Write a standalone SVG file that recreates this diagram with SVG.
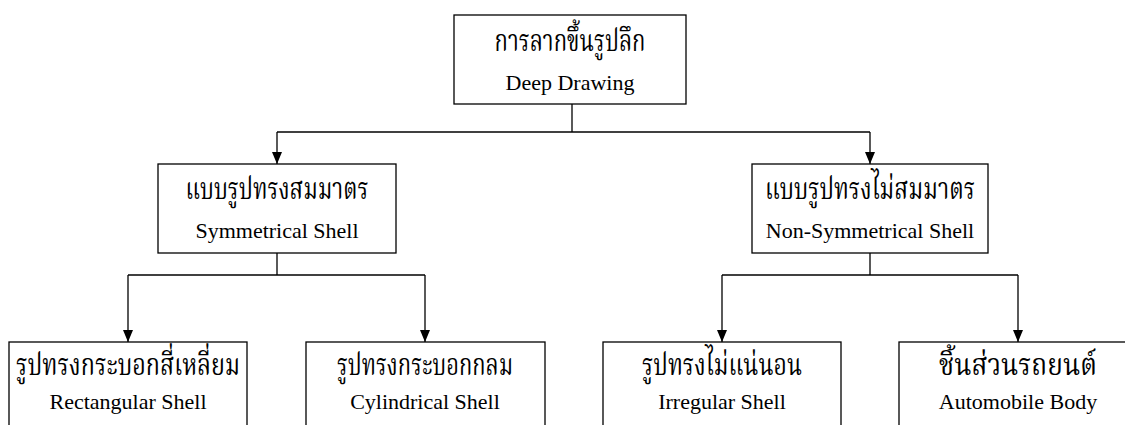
<svg xmlns="http://www.w3.org/2000/svg" width="1125" height="425" viewBox="0 0 1125 425">
<style>
.box{fill:#fff;stroke:#000;stroke-width:1.3}
.th{font-family:"Liberation Serif","Laksaman","Norasi","Noto Serif Thai","Noto Sans Thai Looped","Noto Sans Thai",serif;font-size:30px;fill:#000;text-anchor:middle}
.en{font-family:"Liberation Serif","Times New Roman",serif;font-size:22px;fill:#000;text-anchor:middle}
.ln{fill:none;stroke:#000;stroke-width:1.3}
</style>
<defs>
<marker id="ah" viewBox="0 0 12 10" refX="12" refY="5" markerWidth="12" markerHeight="10" markerUnits="userSpaceOnUse" orient="auto">
<path d="M0,0 L12,5 L0,10 Z" fill="#000"/>
</marker>
</defs>
<rect width="1125" height="425" fill="#fff"/>
<g id="connectors">
<path class="ln" d="M572,104 V132"/>
<path class="ln" d="M277,132 H870"/>
<path class="ln" d="M277,132 V164" marker-end="url(#ah)"/>
<path class="ln" d="M870,132 V164" marker-end="url(#ah)"/>
<path class="ln" d="M277,253 V275"/>
<path class="ln" d="M128,275 H425"/>
<path class="ln" d="M128,275 V342" marker-end="url(#ah)"/>
<path class="ln" d="M425,275 V342" marker-end="url(#ah)"/>
<path class="ln" d="M870,253 V275"/>
<path class="ln" d="M722,275 H1018"/>
<path class="ln" d="M722,275 V342" marker-end="url(#ah)"/>
<path class="ln" d="M1018,275 V342" marker-end="url(#ah)"/>
</g>
<g id="deep-drawing">
<rect class="box" x="454" y="15" width="232" height="89"/>
<text class="th" x="570" y="51" textLength="151" lengthAdjust="spacingAndGlyphs">การลากขึ้นรูปลึก</text>
<text class="en" x="570" y="90">Deep Drawing</text>
</g>
<g id="symmetrical">
<rect class="box" x="158" y="164" width="238" height="89"/>
<text class="th" x="277" y="199" textLength="183" lengthAdjust="spacingAndGlyphs">แบบรูปทรงสมมาตร</text>
<text class="en" x="277" y="238">Symmetrical Shell</text>
</g>
<g id="non-symmetrical">
<rect class="box" x="752" y="164" width="236" height="89"/>
<text class="th" x="870" y="199" textLength="210" lengthAdjust="spacingAndGlyphs">แบบรูปทรงไม่สมมาตร</text>
<text class="en" x="870" y="238">Non-Symmetrical Shell</text>
</g>
<g id="rectangular">
<rect class="box" x="9" y="342" width="238" height="100"/>
<text class="th" x="128" y="375" textLength="224" lengthAdjust="spacingAndGlyphs">รูปทรงกระบอกสี่เหลี่ยม</text>
<text class="en" x="128" y="409">Rectangular Shell</text>
</g>
<g id="cylindrical">
<rect class="box" x="306" y="342" width="239" height="100"/>
<text class="th" x="425" y="375" textLength="176" lengthAdjust="spacingAndGlyphs">รูปทรงกระบอกกลม</text>
<text class="en" x="425" y="409">Cylindrical Shell</text>
</g>
<g id="irregular">
<rect class="box" x="603" y="342" width="238" height="100"/>
<text class="th" x="722" y="375" textLength="160" lengthAdjust="spacingAndGlyphs">รูปทรงไม่แน่นอน</text>
<text class="en" x="722" y="409">Irregular Shell</text>
</g>
<g id="automobile">
<rect class="box" x="899" y="342" width="238" height="100"/>
<text class="th" x="1018" y="375" textLength="158" lengthAdjust="spacingAndGlyphs">ชิ้นส่วนรถยนต์</text>
<text class="en" x="1018" y="409">Automobile Body</text>
</g>
</svg>
